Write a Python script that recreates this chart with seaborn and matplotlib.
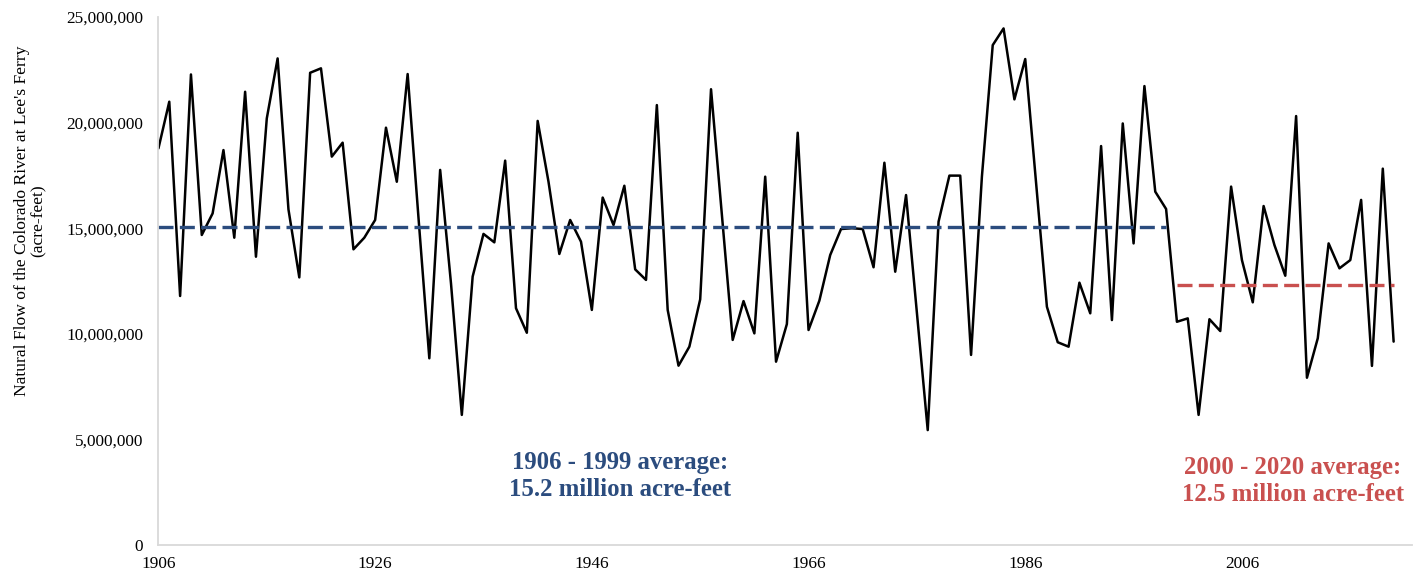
import matplotlib
matplotlib.use("Agg")

import pandas as pd
import seaborn as sns
import matplotlib.pyplot as plt
from matplotlib.ticker import FuncFormatter, MultipleLocator

# natural flow at Lee's Ferry, acre-feet
years = list(range(1906, 2021))
flow = [
    18780000, 20990000, 11790000, 22280000,
    14680000, 15700000, 18700000, 14550000, 21460000, 13650000, 20200000, 23040000, 15890000, 12670000,
    22360000, 22570000, 18390000, 19050000, 14000000, 14550000, 15390000, 19760000, 17200000, 22300000,
    15500000, 8840000, 17760000, 12390000, 6160000, 12710000, 14730000, 14330000, 18200000, 11210000,
    10050000, 20080000, 17200000, 13780000, 15390000, 14360000, 11130000, 16450000, 15150000, 17010000,
    13050000, 12550000, 20830000, 11130000, 8490000, 9390000, 11630000, 21580000, 15650000, 9710000,
    11550000, 10020000, 17440000, 8680000, 10460000, 19520000, 10180000, 11570000, 13730000, 14960000,
    15000000, 14960000, 13150000, 18100000, 12940000, 16570000, 11000000, 5440000, 15310000, 17490000,
    17490000, 9000000, 17440000, 23670000, 24460000, 21100000, 23010000, 17150000, 11280000, 9600000,
    9390000, 12420000, 10970000, 18890000, 10650000, 19960000, 14280000, 21730000, 16730000, 15910000,
    10570000, 10730000, 6160000, 10690000, 10130000, 16970000, 13490000, 11490000, 16050000, 14200000,
    12750000, 20310000, 7920000, 9790000, 14280000, 13100000, 13490000, 16340000, 8480000, 17820000,
    9630000,
]

early_years = [1906, 1999]
early_avg = 15050000
late_years = [2000, 2020]
late_avg = 12300000

early_text = "1906 - 1999 average:\n15.2 million acre-feet"
late_text = "2000 - 2020 average:\n12.5 million acre-feet"

x_ticks = [1906, 1926, 1946, 1966, 1986, 2006]

BLUE = "#2B4C7E"
RED = "#C9504F"

sns.set_theme(style="white")
plt.rcParams['font.family'] = ['Liberation Serif', 'DejaVu Serif']

df = pd.DataFrame({"year": years, "flow": flow})

fig, ax = plt.subplots(figsize=(14.21, 5.73), dpi=100)
fig.subplots_adjust(left=0.1115, right=0.9937, bottom=0.0489, top=0.9703)

sns.lineplot(data=df, x="year", y="flow", color="black", linewidth=1.8, ax=ax)
sns.lineplot(x=early_years, y=[early_avg] * len(early_years), color=BLUE,
             linewidth=2.4, linestyle=(0, (4.5, 1.9)), ax=ax)
sns.lineplot(x=late_years, y=[late_avg] * len(late_years), color=RED,
             linewidth=2.4, linestyle=(0, (4.5, 1.9)), ax=ax)

ax.text(1948.6, 3270000, early_text, color=BLUE, fontsize=17.8, fontweight='bold',
        ha='center', va='center', linespacing=1.22)
ax.text(2010.7, 3050000, late_text, color=RED, fontsize=17.8, fontweight='bold',
        ha='center', va='center', linespacing=1.22)

ax.set_xlim(1906, 2021.7)
ax.set_ylim(0, 25000000)
ax.set_xticks(x_ticks)
ax.yaxis.set_major_locator(MultipleLocator(5000000))
ax.yaxis.set_major_formatter(FuncFormatter(lambda v, _: f"{int(v):,}"))

for side in ['top', 'right']:
    ax.spines[side].set_visible(False)
for side in ['left', 'bottom']:
    ax.spines[side].set_color('#d9d9d9')
    ax.spines[side].set_linewidth(1.3)

ax.tick_params(axis='both', length=0, labelsize=12.4, colors='black')
ax.tick_params(axis='y', pad=11)
ax.tick_params(axis='x', pad=8)

ax.set_xlabel("")
ax.set_ylabel("Natural Flow of the Colorado River at Lee's Ferry\n(acre-feet)",
              fontsize=12.6, color='black', linespacing=1.1)
ax.yaxis.set_label_coords(-0.089, 0.614)

plt.savefig("out.png", dpi=100)
